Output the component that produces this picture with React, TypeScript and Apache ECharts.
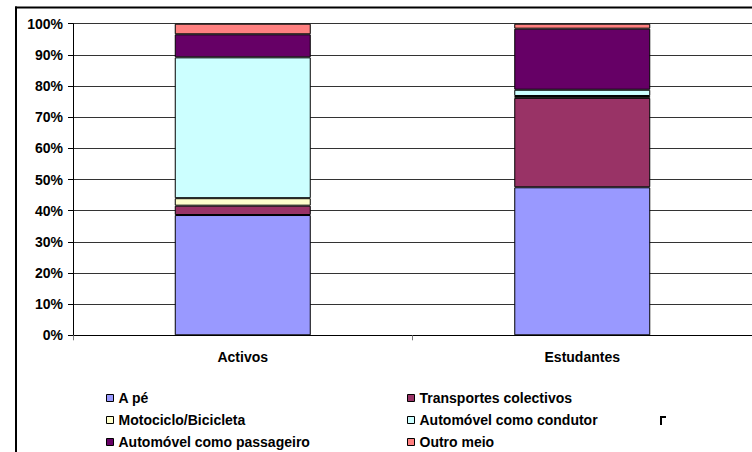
import React, { useEffect, useRef } from "react";
import * as echarts from "echarts";

const categories = ["Activos", "Estudantes"];
const seriesNames = [
  "A pé",
  "Transportes colectivos",
  "Motociclo/Bicicleta",
  "Automóvel como condutor",
  "Automóvel como passageiro",
  "Outro meio",
];
const aPe = [38.6, 47.5];
const transportes = [3.0, 28.7];
const moto = [2.4, 0.6];
const condutor = [45.2, 2.0];
const passageiro = [7.4, 19.6];
const outro = [3.4, 1.6];
const seriesValues = [aPe, transportes, moto, condutor, passageiro, outro];
const colors = ["#9999FF", "#993366", "#FFFFCC", "#CCFFFF", "#660066", "#FF8080"];
const yTicks = { min: 0, max: 100, interval: 10 };

const FONT = "'Liberation Sans', Arial, sans-serif";

export default function App() {
  const ref = useRef<HTMLDivElement>(null);
  useEffect(() => {
    if (!ref.current) return;
    const chart = echarts.init(ref.current, undefined, { renderer: "svg" });
    const legendText = { fontFamily: FONT, fontWeight: "bold" as const, fontSize: 14, color: "#000", lineHeight: 16 };
    const legendPos = [
      [106, 390],
      [407, 390],
      [106, 412],
      [407, 412],
      [106, 434],
      [407, 434],
    ];
    chart.setOption({
      animation: false,
      backgroundColor: "#fff",
      grid: { left: 73, top: 23.7, right: -1, bottom: 116.7, containLabel: false },
      xAxis: {
        type: "category",
        data: categories,
        axisLine: { lineStyle: { color: "#000", width: 1 } },
        axisTick: { show: true, length: 5, lineStyle: { color: "#777" } },
        axisLabel: { fontFamily: FONT, fontWeight: "bold", fontSize: 14, color: "#000", margin: 15 },
      },
      yAxis: {
        type: "value",
        min: yTicks.min,
        max: yTicks.max,
        interval: yTicks.interval,
        axisLine: { show: true, lineStyle: { color: "#000", width: 1 } },
        axisTick: { show: true, length: 5, lineStyle: { color: "#000" } },
        splitLine: { lineStyle: { color: "#333", width: 1 } },
        axisLabel: { formatter: "{value}%", fontFamily: FONT, fontWeight: "bold", fontSize: 14, color: "#000", margin: 10 },
      },
      legend: seriesNames.map((name, i) => ({
        orient: "horizontal",
        left: legendPos[i][0],
        top: legendPos[i][1],
        padding: 0,
        itemWidth: 7,
        itemHeight: 7,
        icon: "rect",
        textStyle: legendText,
        itemStyle: { borderColor: "#000", borderWidth: 1 },
        data: [name],
      })),
      graphic: [
        { type: "rect", shape: { x: 15, y: 6.5, width: 740, height: 2 }, style: { fill: "#000" } },
        { type: "rect", shape: { x: 15, y: 6.5, width: 2, height: 450 }, style: { fill: "#000" } },
        { type: "rect", shape: { x: 660, y: 416, width: 6, height: 2 }, style: { fill: "#000" } },
        { type: "rect", shape: { x: 660, y: 416, width: 2, height: 9 }, style: { fill: "#000" } },
      ],
      series: seriesNames.map((name, i) => ({
        name,
        type: "bar",
        stack: "total",
        barWidth: 136,
        data: seriesValues[i],
        itemStyle: { color: colors[i], borderColor: "#000", borderWidth: 1 },
      })),
    });
    return () => chart.dispose();
  }, []);
  return (
    <div
      ref={ref}
      style={{ position: "fixed", left: 0, top: 0, width: 752, height: 452 }}
    />
  );
}
